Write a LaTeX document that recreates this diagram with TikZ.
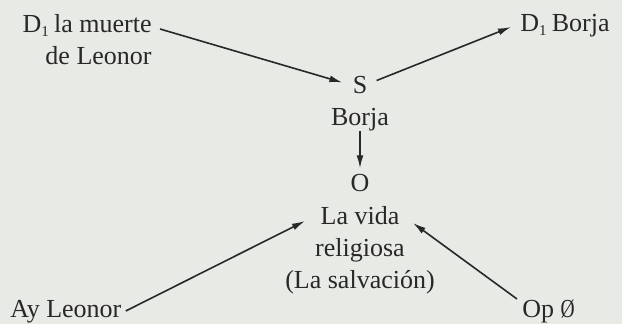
\documentclass[tikz,border=0pt]{standalone}
\usepackage{fontspec}
\setmainfont{Liberation Serif}
\usetikzlibrary{arrows.meta}
\definecolor{paper}{RGB}{232,234,230}
\definecolor{ink}{RGB}{40,40,40}
% small lowered index after D
\newcommand{\dsub}{\raisebox{-1.8pt}{\fontsize{7.5}{7.5}\selectfont 1}\hspace{0.2em}}

\begin{document}
\begin{tikzpicture}[x=0.5pt, y=-0.5pt,
    every node/.style={inner sep=0pt, text=ink, font=\fontsize{13}{16}\selectfont},
    link/.style={draw=ink, line width=0.8pt, -{Latex[length=6.5pt, width=3.4pt]}}]
% Constants
\def\midX{360} % x of the middle column

% Paper and margins
\fill[paper] (0,0) rectangle (622,324);
\useasboundingbox (0,0) rectangle (622,324);

% Middle column: subject and object
\node[anchor=base] (S) at (\midX, 94) {S};
\node[anchor=base] (borja) at (\midX, 126) {Borja};
\node[anchor=base] (O) at (\midX, 192) {O};
\node[anchor=north, align=center] (vida) at (\midX, 206) {La vida\\religiosa\\(La salvación)};

% Corners: senders, receiver, helper, opponent
\node[anchor=north east, align=right] (dMuerte) at (152, 14) {D\dsub la muerte\\de Leonor};
\node[anchor=base west] (dBorja) at (520, 32) {D\dsub Borja};
\node[anchor=base west] (ayLeonor) at (10, 318) {Ay Leonor};
\node[anchor=base west] (opNull) at (522, 318) {Op \scalebox{0.75}[1]{Ø}};

% Arrows between the actants
\draw[link] ([shift={(8,15)}]dMuerte.north east) -- ([shift={(-10,-3)}]S.west);
\draw[link] ([shift={(9,-5)}]S.east) -- ([shift={(-9,-5)}]dBorja.base west);
\draw[link] ([shift={(0,-1)}]borja.south) -- ([shift={(0,-6)}]O.north);
\draw[link] ([shift={(4,-7)}]ayLeonor.base east) -- ([shift={(-55,15)}]vida.north);
\draw[link] ([shift={(-5,-19)}]opNull.base west) -- ([shift={(53,17)}]vida.north);

\end{tikzpicture}
\end{document}
